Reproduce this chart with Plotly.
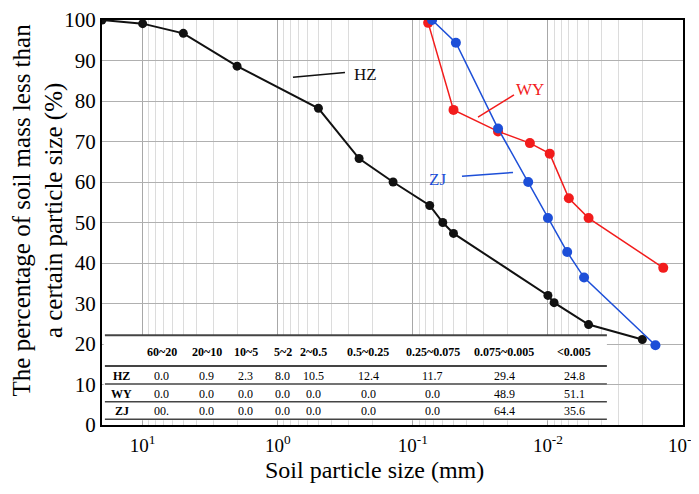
import plotly.graph_objects as go

# grain size distribution curves (particle size in mm, % finer)
hz_size = [20, 10, 5, 2, 0.5, 0.25, 0.14, 0.075, 0.06, 0.05, 0.01, 0.009, 0.005, 0.002]
hz_pct = [100, 99.1, 96.7, 88.6, 78.2, 65.8, 60.0, 54.2, 50.0, 47.3, 32.0, 30.2, 24.8, 21.1]

wy_size = [0.077, 0.05, 0.0234, 0.0136, 0.0097, 0.007, 0.005, 0.0014]
wy_pct = [99.3, 77.8, 72.5, 69.6, 67.0, 56.0, 51.1, 38.8]

zj_size = [0.072, 0.048, 0.0234, 0.014, 0.01, 0.0072, 0.0054, 0.0016]
zj_pct = [100, 94.4, 73.2, 60.0, 51.1, 42.7, 36.4, 19.7]

# inset table
table_cols = ["60~20", "20~10", "10~5", "5~2", "2~0.5", "0.5~0.25",
              "0.25~0.075", "0.075~0.005", "<0.005"]
table_rows = ["HZ", "WY", "ZJ"]
hz_fractions = ["0.0", "0.9", "2.3", "8.0", "10.5", "12.4", "11.7", "29.4", "24.8"]
wy_fractions = ["0.0", "0.0", "0.0", "0.0", "0.0", "0.0", "0.0", "48.9", "51.1"]
zj_fractions = ["00.", "0.0", "0.0", "0.0", "0.0", "0.0", "0.0", "64.4", "35.6"]

x_tickvals = [10, 1, 0.1, 0.01, 0.001]
x_ticktext = ["10<sup>1</sup>", "10<sup>0</sup>", "10<sup>-1</sup>",
              "10<sup>-2</sup>", "10<sup>-3</sup>"]

serif = "Liberation Serif"
black = "#111111"
red = "#f21c1c"
blue = "#1d4fd8"

fig = go.Figure()
fig.add_trace(go.Scatter(x=hz_size, y=hz_pct, mode="lines+markers", name="HZ",
                         line=dict(color=black, width=2),
                         marker=dict(color=black, size=9)))
fig.add_trace(go.Scatter(x=wy_size, y=wy_pct, mode="lines+markers", name="WY",
                         line=dict(color=red, width=1.5),
                         marker=dict(color=red, size=10)))
fig.add_trace(go.Scatter(x=zj_size, y=zj_pct, mode="lines+markers", name="ZJ",
                         line=dict(color=blue, width=1.5),
                         marker=dict(color=blue, size=10)))

minor_vals = [m * 10 ** e for e in range(-3, 2) for m in range(2, 10)]

# page body has an 8px margin, so the figure is a bit smaller than the window
fig.update_layout(
    width=691, height=486,
    margin=dict(l=94, r=16, t=12, b=69, autoexpand=False),
    paper_bgcolor="white", plot_bgcolor="white",
    showlegend=False,
    font=dict(family=serif, color="black"),
    xaxis=dict(type="log", range=[1.30103, -3], automargin=False,
               tickmode="array", tickvals=x_tickvals, ticktext=x_ticktext,
               tickfont=dict(size=19), ticks="", ticklabelstandoff=2,
               ticklabeloverflow="allow",
               showgrid=True, gridcolor="#a8a8a8", gridwidth=1,
               minor=dict(tickmode="array", tickvals=minor_vals,
                          showgrid=True, gridcolor="#dcdcdc", gridwidth=1),
               showline=True, linecolor="black", linewidth=2, mirror=True,
               zeroline=False),
    yaxis=dict(range=[0, 100], dtick=10, tickfont=dict(size=21), ticks="",
               ticklabeloverflow="allow", automargin=False,
               showgrid=True, gridcolor="#b0b0b0", gridwidth=1,
               showline=True, linecolor="black", linewidth=2, mirror=True,
               zeroline=False),
)

# axis titles
fig.add_annotation(x=0.469, y=-0.11, xref="paper", yref="paper",
                   text="Soil particle size (mm)", showarrow=False,
                   xanchor="center", yanchor="middle", font=dict(size=24))
fig.add_annotation(x=-0.110, y=0.53, xref="paper", yref="paper",
                   text="The percentage of soil mass less than<br>a certain particle size (%)",
                   showarrow=False, textangle=-90, xanchor="center",
                   yanchor="middle", font=dict(size=25))

# curve labels with leader lines
labels = [("HZ", black, (0.4527, 0.8657), (0.3287, 0.8585, 0.4182, 0.8705)),
          ("WY", red, (0.7367, 0.8273), (0.6472, 0.7602, 0.7091, 0.8153)),
          ("ZJ", blue, (0.5783, 0.6067), (0.6196, 0.6139, 0.7074, 0.6235))]
for name, color, (tx, ty), (x0, y0, x1, y1) in labels:
    fig.add_annotation(x=tx, y=ty, xref="paper", yref="paper", text=name,
                       showarrow=False, xanchor="center", yanchor="middle",
                       font=dict(size=17, color=color))
    fig.add_shape(type="line", xref="paper", yref="paper",
                  x0=x0, y0=y0, x1=x1, y1=y1,
                  line=dict(color=color, width=1.5))

# inset table
tbl_right = 0.869
fig.add_shape(type="rect", xref="paper", yref="paper", layer="above",
              x0=0.003, x1=tbl_right, y0=0.012, y1=0.2213,
              fillcolor="white", line=dict(width=0))
for yl, w in [(0.2213, 2), (0.1456, 2), (0.1014, 1.5), (0.0576, 1.5), (0.0144, 1.5)]:
    fig.add_shape(type="line", xref="paper", yref="paper", layer="above",
                  x0=0.005, x1=tbl_right, y0=yl, y1=yl,
                  line=dict(color="#444444", width=w))

col_x = [0.103, 0.180, 0.247, 0.311, 0.364, 0.458, 0.569, 0.692, 0.813]
row_y = [0.1216, 0.0775, 0.0343]
for cx, head in zip(col_x, table_cols):
    fig.add_annotation(x=cx, y=0.1799, xref="paper", yref="paper",
                       text="<b>%s</b>" % head.replace("<", "&lt;"),
                       showarrow=False, xanchor="center", yanchor="middle",
                       font=dict(size=12))
for ry, row, vals in zip(row_y, table_rows, [hz_fractions, wy_fractions, zj_fractions]):
    fig.add_annotation(x=0.034, y=ry, xref="paper", yref="paper",
                       text="<b>%s</b>" % row, showarrow=False,
                       xanchor="center", yanchor="middle", font=dict(size=12))
    for cx, v in zip(col_x, vals):
        fig.add_annotation(x=cx, y=ry, xref="paper", yref="paper", text=v,
                           showarrow=False, xanchor="center", yanchor="middle",
                           font=dict(size=12))

fig.write_html("out.html")
